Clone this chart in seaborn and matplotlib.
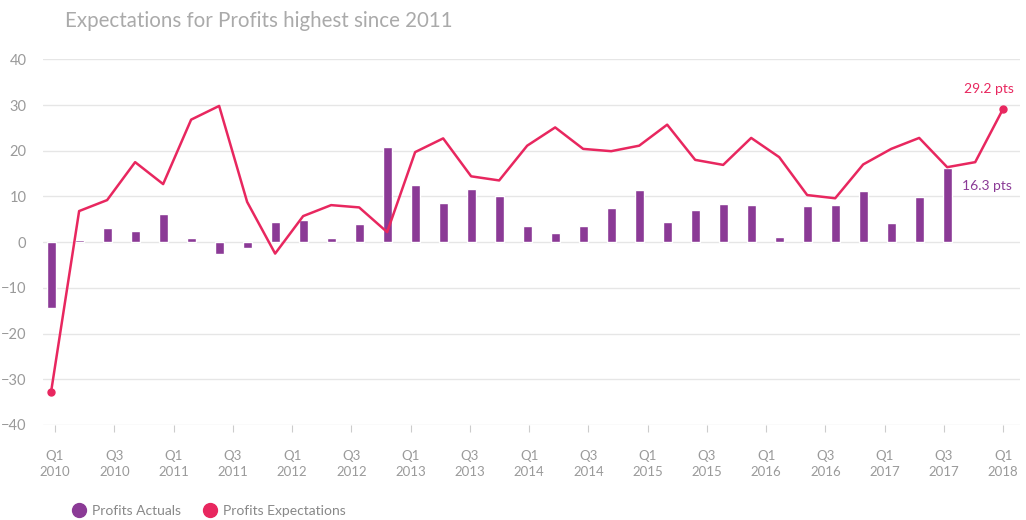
import numpy as np
import pandas as pd
import matplotlib
matplotlib.use("Agg")
import matplotlib.pyplot as plt
from matplotlib.lines import Line2D
import seaborn as sns

# ---- data ----
actuals = [-14.5, 0.4, 3.0, 2.5, 6.2, 0.8, -2.7, -1.3, 4.4, 4.9, 0.8, 4.0,
           20.8, 12.4, 8.6, 11.6, 10.0, 3.6, 2.0, 3.6, 7.4, 11.3, 4.4, 7.1,
           8.3, 8.1, 1.2, 8.0, 8.1, 11.2, 4.2, 9.8, 16.3]
expectations = [-32.7, 6.8, 9.2, 17.5, 12.7, 26.8, 29.8, 8.8, -2.5, 5.7, 8.1, 7.6,
                2.2, 19.7, 22.7, 14.4, 13.5, 21.1, 25.1, 20.4, 19.9, 21.1, 25.7, 18.0,
                16.9, 22.8, 18.6, 10.3, 9.6, 17.0, 20.4, 22.8, 16.4, 17.5, 29.2]
tick_labels = ["Q1\n2010", "Q3\n2010", "Q1\n2011", "Q3\n2011", "Q1\n2012", "Q3\n2012",
               "Q1\n2013", "Q3\n2013", "Q1\n2014", "Q3\n2014", "Q1\n2015", "Q3\n2015",
               "Q1\n2016", "Q3\n2016", "Q1\n2017", "Q3\n2017", "Q1\n2018"]
title = "Expectations for Profits highest since 2011"

PURPLE = "#8b3a96"
PINK = "#e8275f"
GREY = "#9a9a9a"

sns.set_theme(style="white")
plt.rcParams["font.family"] = ["Lato", "DejaVu Sans"]

df_a = pd.DataFrame({"i": np.arange(len(actuals)), "v": actuals})
df_e = pd.DataFrame({"i": np.arange(len(expectations)), "v": expectations})

fig = plt.figure(figsize=(10.26, 5.2), dpi=100)
ax = fig.add_axes([43 / 1026, 1 - 425 / 520, (1020 - 43) / 1026, (425 - 59.3) / 520])

sns.barplot(data=df_a, x="i", y="v", native_scale=True, width=0.32,
            color=PURPLE, saturation=1, ax=ax, zorder=2)
sns.lineplot(data=df_e, x="i", y="v", color=PINK, linewidth=1.8, ax=ax, zorder=3)
ends = df_e.iloc[[0, -1]]
ax.plot(ends["i"], ends["v"], "o", color=PINK, markersize=5, zorder=4)

ax.set_ylim(-40, 40)
ax.set_xlim(-0.29, 34.6)
ax.set_yticks(np.arange(-40, 41, 10))
ax.set_xticks(np.linspace(0.14, 34, len(tick_labels)))
ax.set_xticklabels(tick_labels, fontsize=9.5, color=GREY, linespacing=1.45)
ax.tick_params(axis="y", labelsize=10.5, labelcolor=GREY, length=0, pad=12)
ax.tick_params(axis="x", length=5, width=0.8, color="#cccccc", pad=13, direction="out",
               bottom=True)
ax.set_xlabel("")
ax.set_ylabel("")
ax.grid(axis="y", color="#e6e6e6", linewidth=1, zorder=0)
ax.set_axisbelow(True)
for s in ax.spines.values():
    s.set_visible(False)

# annotations
last_a = df_a.iloc[-1]
last_e = df_e.iloc[-1]
ax.annotate(f"{last_e['v']:.1f} pts", (last_e["i"], last_e["v"]), xytext=(-10, 10),
            textcoords="offset points", color=PINK, fontsize=10, ha="center", va="bottom")
ax.annotate(f"{last_a['v']:.1f} pts", (last_a["i"], last_a["v"]), xytext=(11, -13),
            textcoords="offset points", color=PURPLE, fontsize=10, ha="left", va="center")

fig.text(65 / 1026, 1 - 21 / 520, title, fontsize=14.8, color="#aaaaaa", va="center", ha="left")

handles = [Line2D([], [], marker="o", linestyle="", color=PURPLE, markersize=10),
           Line2D([], [], marker="o", linestyle="", color=PINK, markersize=10)]
leg = fig.legend(handles, ["Profits Actuals", "Profits Expectations"], loc="center left",
                 bbox_to_anchor=(60 / 1026, 1 - 511 / 520), ncol=2, frameon=False,
                 fontsize=10, handletextpad=0.4, columnspacing=1.6, handlelength=1.0)
for t in leg.get_texts():
    t.set_color("#888888")

fig.savefig("out.png", dpi=100)
